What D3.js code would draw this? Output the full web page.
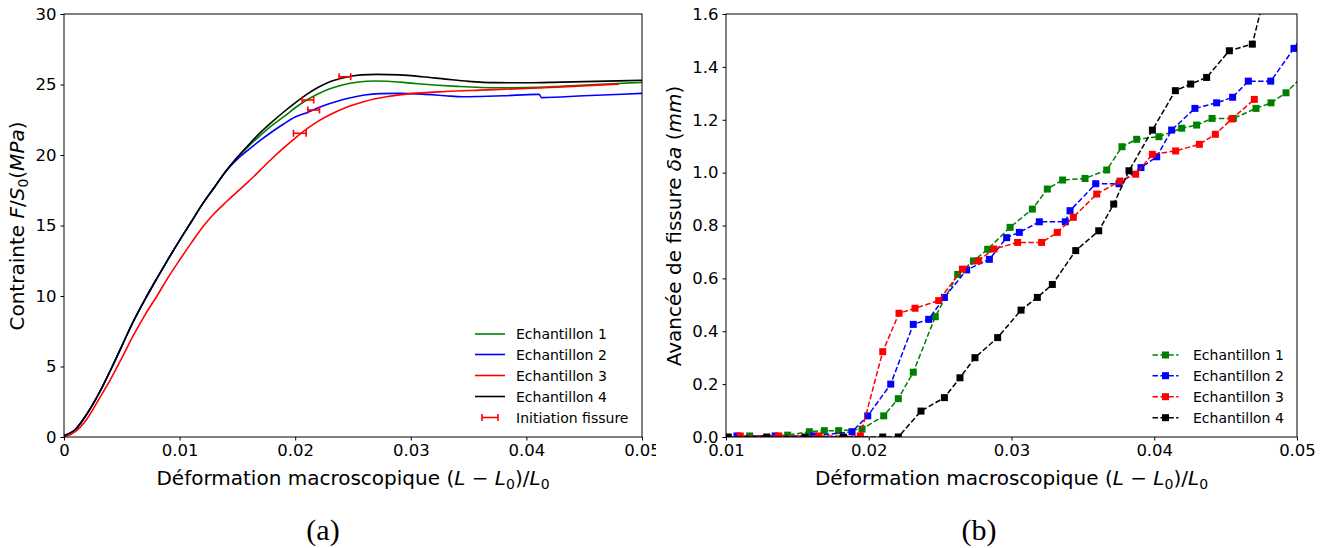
<!DOCTYPE html>
<html><head><meta charset="utf-8">
<script src="https://cdn.jsdelivr.net/npm/d3@7"></script>
<style>
body{margin:0;background:#fff}
text{font-family:"DejaVu Sans",sans-serif;fill:#000}
</style>
</head><body>
<svg id="c" width="1333" height="548" xmlns="http://www.w3.org/2000/svg"></svg>
<script>
// ---------- (a) stress-strain curves ----------
const ech1Strain = [0,0.001,0.002,0.003,0.004,0.005,0.006,0.007,0.008,0.009,0.010,0.011,0.012,0.013,0.014,0.015,0.016,0.017,0.018,0.019,0.020,0.021,0.022,0.023,0.024,0.0255,0.0268,0.028,0.030,0.032,0.034,0.0374,0.040,0.043,0.046,0.05];
const ech1Stress = [0.1,0.55,1.65,3.05,4.7,6.45,8.2,9.75,11.2,12.6,13.95,15.25,16.55,17.7,18.85,19.8,20.65,21.4,22.1,22.7,23.35,23.9,24.35,24.7,24.95,25.18,25.25,25.23,25.1,24.97,24.87,24.77,24.78,24.87,25.0,25.15];
const ech2Strain = [0,0.001,0.002,0.003,0.004,0.005,0.006,0.007,0.008,0.009,0.010,0.011,0.012,0.013,0.014,0.015,0.016,0.017,0.018,0.019,0.020,0.021,0.022,0.023,0.024,0.025,0.026,0.0273,0.029,0.031,0.033,0.0345,0.036,0.038,0.0409,0.0411,0.0413,0.045,0.05];
const ech2Stress = [0.1,0.55,1.65,3.05,4.7,6.45,8.2,9.75,11.2,12.6,13.95,15.25,16.55,17.7,18.85,19.7,20.4,21.05,21.65,22.2,22.7,23.0,23.35,23.65,23.9,24.1,24.25,24.35,24.37,24.32,24.2,24.13,24.15,24.2,24.3,24.3,24.07,24.2,24.37];
const ech3Strain = [0,0.001,0.002,0.003,0.004,0.005,0.006,0.007,0.008,0.009,0.010,0.011,0.012,0.013,0.014,0.015,0.016,0.017,0.018,0.019,0.020,0.021,0.022,0.023,0.0245,0.026,0.028,0.030,0.033,0.036,0.040,0.044,0.048];
const ech3Stress = [0,0.4,1.3,2.65,4.05,5.6,7.2,8.65,9.95,11.3,12.55,13.75,14.9,15.85,16.65,17.4,18.15,18.95,19.75,20.5,21.2,21.85,22.4,22.85,23.4,23.8,24.15,24.35,24.5,24.6,24.72,24.87,25.03];
const ech4Strain = [0,0.001,0.002,0.003,0.004,0.005,0.006,0.007,0.008,0.009,0.010,0.011,0.012,0.013,0.014,0.015,0.016,0.017,0.018,0.019,0.020,0.021,0.022,0.023,0.0243,0.0257,0.0271,0.029,0.031,0.033,0.035,0.0374,0.040,0.043,0.046,0.05];
const ech4Stress = [0.1,0.55,1.65,3.05,4.7,6.45,8.2,9.75,11.2,12.6,13.95,15.25,16.55,17.7,18.85,19.85,20.75,21.6,22.35,23.05,23.7,24.3,24.8,25.2,25.5,25.68,25.72,25.68,25.55,25.38,25.22,25.13,25.12,25.17,25.22,25.3];
// crack initiation (horizontal error bars)
const initStrain = [0.0211,0.0216,0.0204,0.0243];
const initStress = [23.9,23.19,21.54,25.55];
const initErr    = [0.0005,0.0005,0.00055,0.0005];

// ---------- (b) crack advance ----------
const adv1Strain = [0.01166,0.01432,0.01584,0.01689,0.01789,0.01953,0.02105,0.02207,0.02312,0.02466,0.02623,0.02733,0.02833,0.0299,0.03146,0.03251,0.03358,0.03515,0.03667,0.03774,0.03877,0.04033,0.04192,0.04297,0.04405,0.04554,0.04713,0.04818,0.04923,0.0503];
const adv1Val    = [0.004,0.007,0.02,0.024,0.024,0.03,0.08,0.145,0.245,0.455,0.615,0.666,0.71,0.793,0.862,0.938,0.972,0.978,1.01,1.098,1.126,1.136,1.168,1.18,1.205,1.205,1.243,1.264,1.302,1.36];
const adv2Strain = [0.01077,0.01345,0.01614,0.01883,0.01993,0.02154,0.02312,0.0242,0.0253,0.02686,0.02845,0.02966,0.03055,0.03195,0.03377,0.0341,0.0359,0.03753,0.03907,0.04017,0.04122,0.04285,0.04437,0.04549,0.04659,0.04816,0.04979,0.0511];
const adv2Val    = [0.004,0.004,0.004,0.02,0.08,0.2,0.426,0.445,0.528,0.632,0.672,0.754,0.774,0.814,0.814,0.856,0.958,0.958,1.019,1.06,1.161,1.243,1.264,1.285,1.346,1.346,1.47,1.58];
const adv3Strain = [0.011,0.01369,0.01649,0.01941,0.02098,0.02212,0.02324,0.0249,0.02656,0.02768,0.02877,0.03043,0.03211,0.03321,0.03433,0.03597,0.0376,0.0387,0.03987,0.0415,0.04316,0.04428,0.04543,0.04701];
const adv3Val    = [0.004,0.004,0.004,0.004,0.3226,0.468,0.487,0.516,0.635,0.667,0.711,0.736,0.736,0.774,0.831,0.919,0.968,0.994,1.069,1.082,1.107,1.145,1.203,1.277];
const adv4Strain = [0.01016,0.01285,0.01553,0.01822,0.02098,0.02207,0.02366,0.0253,0.02639,0.02744,0.02903,0.03067,0.03181,0.03286,0.0345,0.03611,0.03716,0.03823,0.03987,0.04148,0.04255,0.04367,0.04526,0.04687,0.048];
const adv4Val    = [0,0,0,0,0,0,0.098,0.149,0.224,0.3,0.376,0.48,0.528,0.577,0.705,0.78,0.881,1.007,1.161,1.31,1.335,1.36,1.461,1.486,1.73];

const seriesNames = ["Echantillon 1","Echantillon 2","Echantillon 3","Echantillon 4"];
const seriesColors = ["#008000","#0000ff","#ff0000","#000000"];
const xTicksA = [0,0.01,0.02,0.03,0.04,0.05];
const xTickLabelsA = ["0","0.01","0.02","0.03","0.04","0.05"];
const yTicksA = [0,5,10,15,20,25,30];
const xTicksB = [0.01,0.02,0.03,0.04,0.05];
const yTicksB = [0,0.2,0.4,0.6,0.8,1.0,1.2,1.4,1.6];

const svg = d3.select("#c");
const defs = svg.append("defs");
const TICKFS = 16.5, LABFS = 20, LEGFS = 14;

function frame(g, x, y, xt, xfmt, yt, yfmt){
  const ax = g.append("g").attr("transform",`translate(0,${y.range()[0]})`)
    .call(d3.axisBottom(x).tickValues(xt).tickFormat(xfmt).tickSize(3.5).tickPadding(4));
  const ay = g.append("g").attr("transform",`translate(${x.range()[0]},0)`)
    .call(d3.axisLeft(y).tickValues(yt).tickFormat(yfmt).tickSize(3.5).tickPadding(4));
  [ax,ay].forEach(a=>{
    a.attr("font-family","DejaVu Sans");
    a.select(".domain").remove();
    a.selectAll("line").attr("stroke","#000").attr("stroke-width",1);
    a.selectAll("text").attr("font-size",TICKFS).attr("fill","#000");
  });
  g.append("rect").attr("x",x.range()[0]).attr("y",y.range()[1])
    .attr("width",x.range()[1]-x.range()[0]).attr("height",y.range()[0]-y.range()[1])
    .attr("fill","none").attr("stroke","#000").attr("stroke-width",1);
}

function xLabel(g, cx, cy){
  const t = g.append("text").attr("x",cx).attr("y",cy).attr("text-anchor","middle").attr("font-size",LABFS);
  t.append("tspan").text("Déformation macroscopique (");
  t.append("tspan").attr("font-style","italic").text("L");
  t.append("tspan").text(" − ");
  t.append("tspan").attr("font-style","italic").text("L");
  t.append("tspan").attr("font-size",LABFS*0.7).attr("dy",4).text("0");
  t.append("tspan").attr("dy",-4).text(")/");
  t.append("tspan").attr("font-style","italic").text("L");
  t.append("tspan").attr("font-size",LABFS*0.7).attr("dy",4).text("0");
}

// ---------- panel (a) ----------
defs.append("clipPath").attr("id","clipPanelA").append("rect").attr("x",0).attr("y",0).attr("width",656).attr("height",548);
defs.append("clipPath").attr("id","clipA").append("rect").attr("x",64).attr("y",14).attr("width",578).attr("height",423);
const gA = svg.append("g").attr("clip-path","url(#clipPanelA)");
const xA = d3.scaleLinear().domain([0,0.05]).range([64,642]);
const yA = d3.scaleLinear().domain([0,30]).range([437,14]);

const lineA = d3.line().x(d=>xA(d[0])).y(d=>yA(d[1])).curve(d3.curveMonotoneX);
const curvesA = [[ech1Strain,ech1Stress],[ech2Strain,ech2Stress],[ech3Strain,ech3Stress],[ech4Strain,ech4Stress]];
const plotA = gA.append("g").attr("clip-path","url(#clipA)");
curvesA.forEach((c,i)=>{
  plotA.append("path").datum(d3.zip(c[0],c[1])).attr("d",lineA)
    .attr("fill","none").attr("stroke",seriesColors[i]).attr("stroke-width",1.6);
});
// error bars
initStrain.forEach((s,i)=>{
  const y = yA(initStress[i]), xl = xA(s-initErr[i]), xr = xA(s+initErr[i]);
  const eg = plotA.append("g").attr("stroke","#ff0000").attr("stroke-width",1.6);
  eg.append("line").attr("x1",xl).attr("x2",xr).attr("y1",y).attr("y2",y);
  eg.append("line").attr("x1",xl).attr("x2",xl).attr("y1",y-3.5).attr("y2",y+3.5);
  eg.append("line").attr("x1",xr).attr("x2",xr).attr("y1",y-3.5).attr("y2",y+3.5);
});
frame(gA, xA, yA, xTicksA, (d,i)=>xTickLabelsA[i], yTicksA, d=>String(d));
xLabel(gA, 353, 485);
{
  const t = gA.append("text").attr("transform","translate(24,226) rotate(-90)").attr("text-anchor","middle").attr("font-size",LABFS);
  t.append("tspan").text("Contrainte ");
  t.append("tspan").attr("font-style","italic").text("F");
  t.append("tspan").text("/");
  t.append("tspan").attr("font-style","italic").text("S");
  t.append("tspan").attr("font-size",LABFS*0.7).attr("dy",4).text("0");
  t.append("tspan").attr("dy",-4).text("(");
  t.append("tspan").attr("font-style","italic").text("MPa");
  t.append("tspan").text(")");
}
// legend (a)
const legA = gA.append("g");
const legRowsA = [334,354.5,375.5,396.5,417.5];
seriesNames.forEach((n,i)=>{
  legA.append("line").attr("x1",475).attr("x2",505).attr("y1",legRowsA[i]).attr("y2",legRowsA[i])
    .attr("stroke",seriesColors[i]).attr("stroke-width",1.6);
  legA.append("text").attr("x",516).attr("y",legRowsA[i]+5).attr("font-size",LEGFS).text(n);
});
{
  const y = legRowsA[4];
  const eg = legA.append("g").attr("stroke","#ff0000").attr("stroke-width",1.6);
  eg.append("line").attr("x1",482).attr("x2",498).attr("y1",y).attr("y2",y);
  eg.append("line").attr("x1",482).attr("x2",482).attr("y1",y-3.5).attr("y2",y+3.5);
  eg.append("line").attr("x1",498).attr("x2",498).attr("y1",y-3.5).attr("y2",y+3.5);
  legA.append("text").attr("x",516).attr("y",y+5).attr("font-size",LEGFS).text("Initiation fissure");
}

// ---------- panel (b) ----------
defs.append("clipPath").attr("id","clipB").append("rect").attr("x",726).attr("y",14).attr("width",571).attr("height",423);
const gB = svg.append("g");
const xB = d3.scaleLinear().domain([0.01,0.05]).range([726,1297]);
const yB = d3.scaleLinear().domain([0,1.6]).range([437,14]);
const lineB = d3.line().x(d=>xB(d[0])).y(d=>yB(d[1]));
const curvesB = [[adv1Strain,adv1Val],[adv2Strain,adv2Val],[adv3Strain,adv3Val],[adv4Strain,adv4Val]];
const plotB = gB.append("g").attr("clip-path","url(#clipB)");
const MS = 7;
curvesB.forEach((c,i)=>{
  const pts = d3.zip(c[0],c[1]);
  plotB.append("path").datum(pts).attr("d",lineB).attr("fill","none")
    .attr("stroke",seriesColors[i]).attr("stroke-width",1.5).attr("stroke-dasharray","5.5,2.4");
  plotB.append("g").selectAll("rect").data(pts).join("rect")
    .attr("x",d=>xB(d[0])-MS/2).attr("y",d=>yB(d[1])-MS/2).attr("width",MS).attr("height",MS)
    .attr("fill",seriesColors[i]);
});
frame(gB, xB, yB, xTicksB, d3.format(".2f"), yTicksB, d3.format(".1f"));
xLabel(gB, 1011.5, 485);
{
  const t = gB.append("text").attr("transform","translate(681,226) rotate(-90)").attr("text-anchor","middle").attr("font-size",LABFS);
  t.append("tspan").text("Avancée de fissure ");
  t.append("tspan").attr("font-style","italic").text("δa");
  t.append("tspan").text(" (");
  t.append("tspan").attr("font-style","italic").text("mm");
  t.append("tspan").text(")");
}
// legend (b)
const legB = gB.append("g");
const legRowsB = [355,375.7,396.7,417.7];
seriesNames.forEach((n,i)=>{
  const y = legRowsB[i];
  legB.append("line").attr("x1",1152.5).attr("x2",1178.5).attr("y1",y).attr("y2",y)
    .attr("stroke",seriesColors[i]).attr("stroke-width",1.5).attr("stroke-dasharray","5.5,2.4");
  legB.append("rect").attr("x",1165.5-MS/2).attr("y",y-MS/2).attr("width",MS).attr("height",MS).attr("fill",seriesColors[i]);
  legB.append("text").attr("x",1193).attr("y",y+5).attr("font-size",LEGFS).text(n);
});

// captions
svg.append("text").attr("x",323).attr("y",540).attr("text-anchor","middle")
  .style("font-family","'Liberation Serif',serif").attr("font-size",30).text("(a)");
svg.append("text").attr("x",979).attr("y",540).attr("text-anchor","middle")
  .style("font-family","'Liberation Serif',serif").attr("font-size",30).text("(b)");
</script>
</body></html>
